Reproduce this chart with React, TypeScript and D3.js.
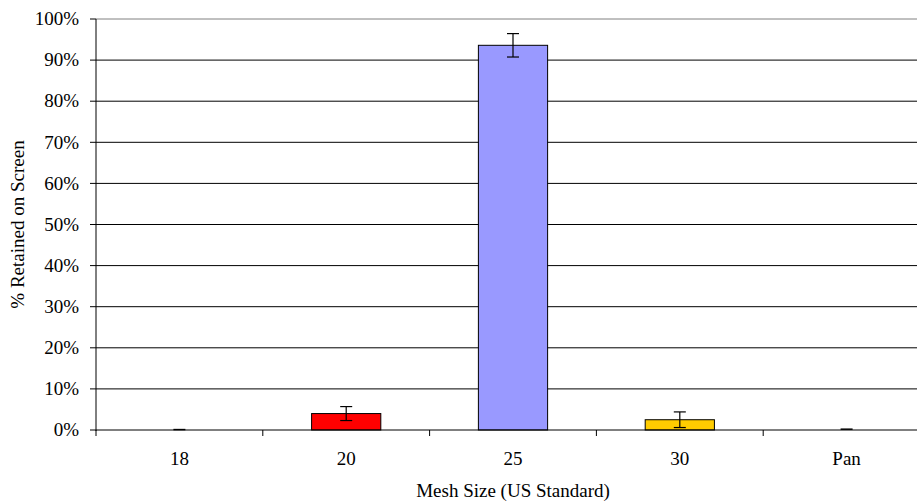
import * as d3 from 'd3';

// sieve analysis: % retained per screen
const meshSizes = ['18', '20', '25', '30', 'Pan'];
const retained = [0.1, 4.0, 93.6, 2.5, 0.2];
const errors = [0, 1.7, 2.85, 1.9, 0];
const barColors = ['#000000', '#FF0000', '#9999FF', '#FFCC00', '#000000'];
const yTicks = [0, 10, 20, 30, 40, 50, 60, 70, 80, 90, 100];

const W = 917;
const H = 502;
const margin = { left: 96, top: 19, bottom: 72 };
const plotRight = 930;

export default function App() {
  const x = d3.scaleBand().domain(meshSizes).range([margin.left, plotRight]).paddingInner(0).paddingOuter(0);
  const y = d3.scaleLinear().domain([0, 100]).range([H - margin.bottom, margin.top]);
  const barW = x.bandwidth() * 0.415;
  const y0 = y(0);
  const txt = { fontFamily: "'Liberation Serif', 'Times New Roman', serif", fontSize: '19px' };

  return (
    <svg width={W} height={H} style={{ position: 'absolute', left: 0, top: 0, overflow: 'hidden' }}>
      <rect width={W} height={H} fill="#fff" />
      {yTicks.map((t) => (
        <g key={t}>
          {t > 0 ? <line x1={margin.left} x2={plotRight} y1={y(t)} y2={y(t)} stroke={t === 100 ? '#808080' : '#000'} strokeWidth={1} /> : null}
          <line x1={margin.left - 6} x2={margin.left} y1={y(t)} y2={y(t)} stroke="#000" />
          <text x={margin.left - 17} y={y(t)} dy="0.33em" textAnchor="end" style={txt}>
            {t}%
          </text>
        </g>
      ))}

      {meshSizes.map((m, i) => {
        const cx = (x(m) as number) + x.bandwidth() / 2;
        const top = y(retained[i]);
        const big = retained[i] > 1;
        return (
          <g key={m}>
            {big ? (
              <rect x={cx - barW / 2} y={top} width={barW} height={y0 - top} fill={barColors[i]} stroke="#000" strokeWidth={1} />
            ) : (
              <line x1={cx - 6} x2={cx + 6} y1={top} y2={top} stroke="#000" strokeWidth={1.5} />
            )}
            {errors[i] > 0 ? (
              <g stroke="#000" strokeWidth={1.2}>
                <line x1={cx} x2={cx} y1={y(retained[i] + errors[i])} y2={y(retained[i] - errors[i])} />
                <line x1={cx - 6} x2={cx + 6} y1={y(retained[i] + errors[i])} y2={y(retained[i] + errors[i])} />
                <line x1={cx - 6} x2={cx + 6} y1={y(retained[i] - errors[i])} y2={y(retained[i] - errors[i])} />
              </g>
            ) : null}
            <text x={cx} y={y0 + 35} textAnchor="middle" style={txt}>
              {m}
            </text>
          </g>
        );
      })}

      {/* axes */}
      <line x1={margin.left} x2={margin.left} y1={margin.top} y2={y0 + 1} stroke="#000" />
      <line x1={margin.left} x2={plotRight} y1={y0} y2={y0} stroke="#000" />
      {meshSizes.map((m) => (
        <line key={`t${m}`} x1={x(m) as number} x2={x(m) as number} y1={y0} y2={y0 + 6} stroke="#000" />
      ))}

      <text x={(margin.left + plotRight) / 2} y={H - 5} textAnchor="middle" style={txt}>
        Mesh Size (US Standard)
      </text>
      <text transform={`translate(24, ${(margin.top + y0) / 2}) rotate(-90)`} textAnchor="middle" style={txt}>
        % Retained on Screen
      </text>
    </svg>
  );
}
